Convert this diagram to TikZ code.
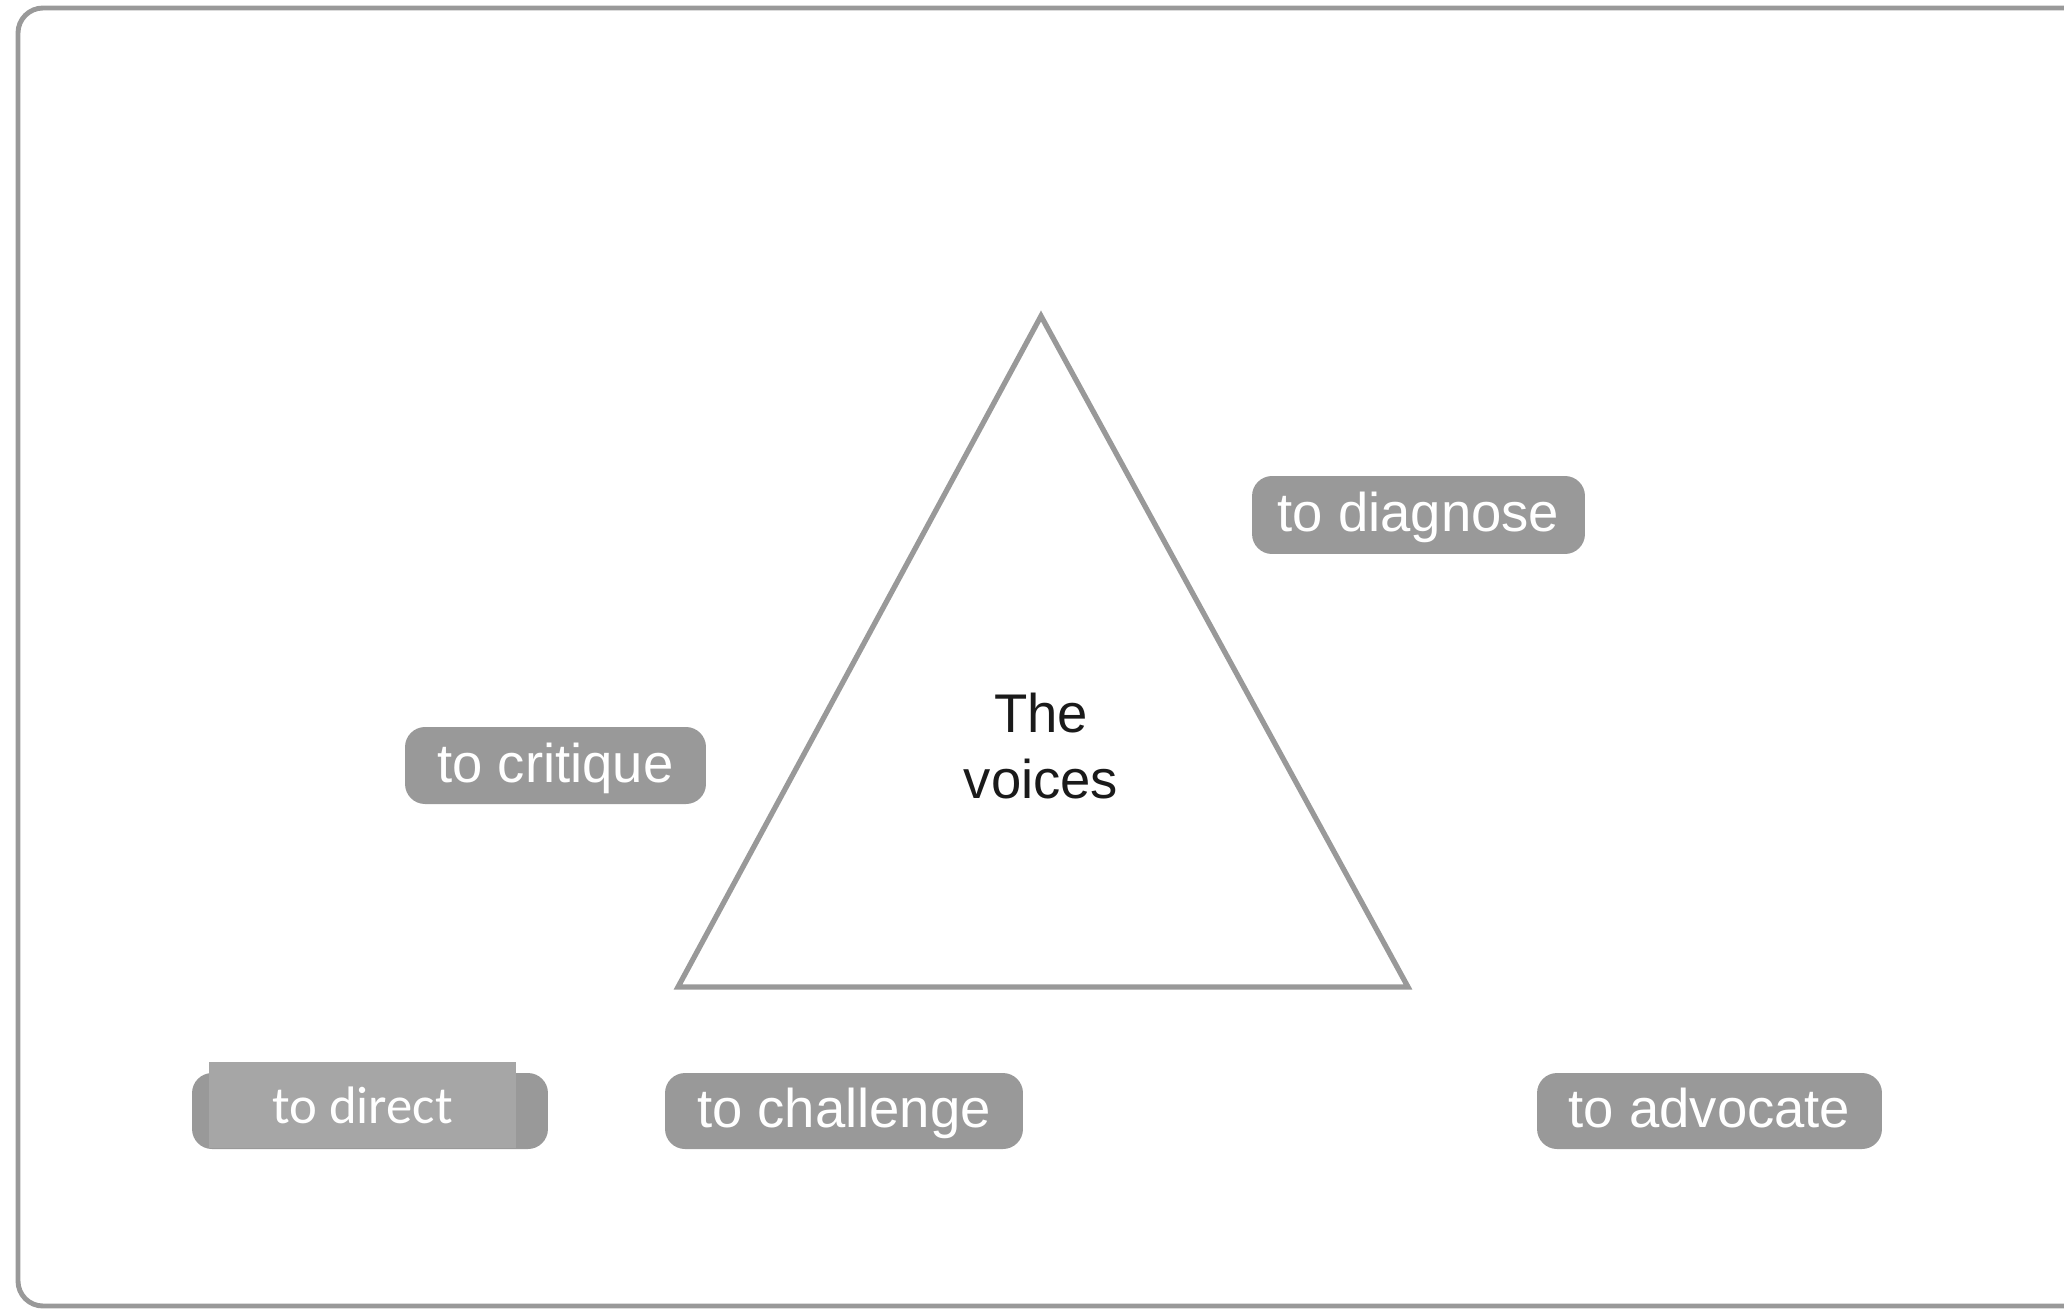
\documentclass[tikz,border=0pt]{standalone}
\usepackage{fontspec}
\setmainfont{Liberation Sans}
\newfontfamily\calibrilike{Carlito}
\definecolor{edgegrey}{HTML}{999999}
\definecolor{taggrey}{HTML}{999999}
\definecolor{lighttag}{HTML}{A6A6A6}
\definecolor{inktext}{HTML}{1A1A1A}
\begin{document}
\begin{tikzpicture}[x=0.02cm,y=-0.02cm,
  tag/.style={fill=taggrey, rounded corners=0.4cm, text=white,
    font=\fontsize{31}{36}\selectfont, inner sep=0pt, minimum height=1.54cm,
    text depth=0.12cm},
  flattag/.style={fill=lighttag, text=white, inner sep=0pt,
    font=\calibrilike\fontsize{30}{36}\selectfont},
  outline/.style={draw=edgegrey, line width=3pt}]
  \useasboundingbox (0,0) rectangle (2064,1308);
  % outer frame
  \draw[draw=edgegrey, line width=2.8pt, rounded corners=0.5cm] (18,8) rectangle (2090,1306);
  % triangle
  \coordinate (apex) at (1041,316);
  \coordinate (bl) at (678,987);
  \coordinate (br) at (1408,987);
  \draw[outline, line join=miter] (apex) -- (br) -- (bl) -- cycle;
  \node[text=inktext, align=center, font=\fontsize{31}{38}\selectfont] (voices) at (1041,746) {The\\voices};
  % labels
  \node[tag, minimum width=6.66cm, minimum height=1.56cm] (diagnose) at (1418.5,515) {to diagnose};
  \node[tag, minimum width=6.02cm] (critique) at (555.5,765.5) {to critique};
  \node[tag, minimum width=7.12cm, minimum height=1.52cm] (directbase) at (370,1111) {};
  \node[flattag, minimum width=6.14cm, minimum height=1.72cm] (direct) at (362.5,1105) {to direct};
  \node[tag, minimum width=7.16cm, minimum height=1.52cm] (challenge) at (844,1111) {to challenge};
  \node[tag, minimum width=6.9cm, minimum height=1.52cm] (advocate) at (1709.5,1111) {to advocate};
\end{tikzpicture}
\end{document}
